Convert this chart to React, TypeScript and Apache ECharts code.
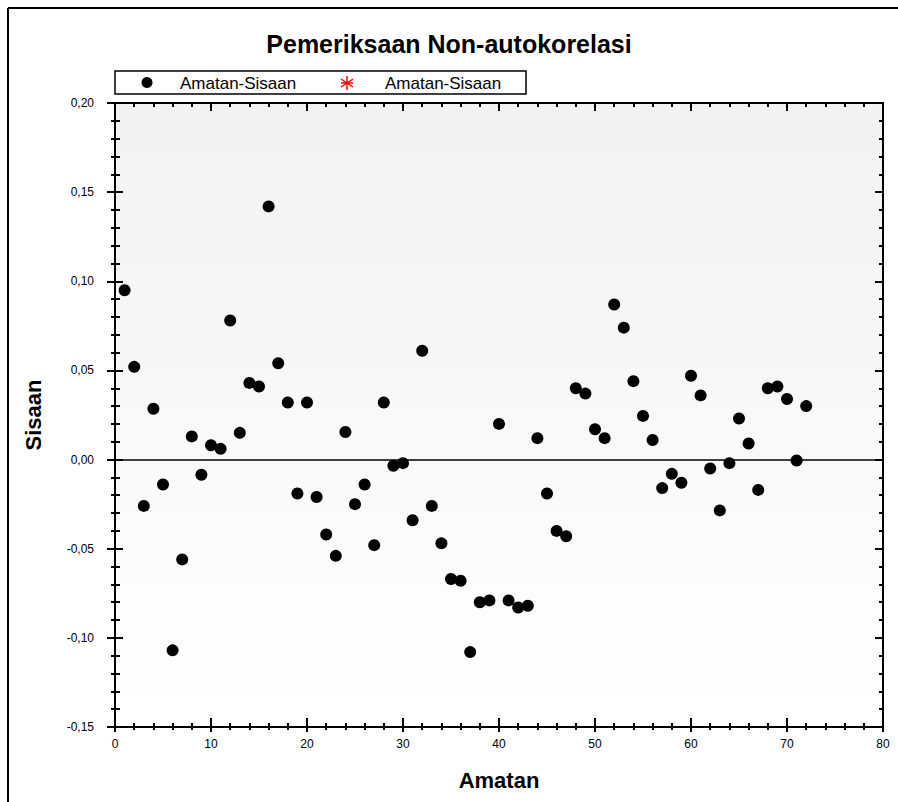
import React, { useEffect, useRef } from "react";
import * as echarts from "echarts";

const titleText = "Pemeriksaan Non-autokorelasi";
const seriesName = "Amatan-Sisaan";
const xName = "Amatan";
const yName = "Sisaan";

const amatan = [
  1, 2, 3, 4, 5, 6, 7, 8, 9, 10, 11, 12, 13, 14, 15, 16, 17, 18, 19, 20, 21, 22, 23, 24,
  25, 26, 27, 28, 29, 30, 31, 32, 33, 34, 35, 36, 37, 38, 39, 40, 41, 42, 43, 44, 45, 46, 47, 48,
  49, 50, 51, 52, 53, 54, 55, 56, 57, 58, 59, 60, 61, 62, 63, 64, 65, 66, 67, 68, 69, 70, 71, 72,
];

const sisaan = [
  0.095, 0.052, -0.026, 0.0285, -0.014, -0.107, -0.056, 0.013, -0.0085, 0.008, 0.006, 0.078,
  0.015, 0.043, 0.041, 0.142, 0.054, 0.032, -0.019, 0.032, -0.021, -0.042, -0.054, 0.0155,
  -0.025, -0.014, -0.048, 0.032, -0.0035, -0.002, -0.034, 0.061, -0.026, -0.047, -0.067, -0.068,
  -0.108, -0.08, -0.079, 0.02, -0.079, -0.083, -0.082, 0.012, -0.019, -0.04, -0.043, 0.04,
  0.037, 0.017, 0.012, 0.087, 0.074, 0.044, 0.0245, 0.011, -0.016, -0.008, -0.013, 0.047,
  0.036, -0.005, -0.0285, -0.002, 0.023, 0.009, -0.017, 0.04, 0.041, 0.034, -0.0005, 0.03,
];

const xMin = 0;
const xMax = 80;
const xInterval = 10;
const yMin = -0.15;
const yMax = 0.2;
const yInterval = 0.05;

const FONT = "'Liberation Sans', Arial, sans-serif";

export default function App() {
  const ref = useRef<HTMLDivElement>(null);

  useEffect(() => {
    if (!ref.current) return;
    const chart = echarts.init(ref.current, undefined, { renderer: "svg" });

    const data = amatan.map((x, i) => [x, sisaan[i]]);
    const fmtY = (v: number) => v.toFixed(2).replace(".", ",");

    const baseX = {
      type: "value" as const,
      min: xMin,
      max: xMax,
      interval: xInterval,
      splitLine: { show: false },
      axisLine: { show: true, onZero: false, lineStyle: { color: "#000", width: 2 } },
    };
    const baseY = {
      type: "value" as const,
      min: yMin,
      max: yMax,
      interval: yInterval,
      splitLine: { show: false },
      axisLine: { show: true, onZero: false, lineStyle: { color: "#000", width: 2 } },
    };

    const option: any = {
      animation: false,
      backgroundColor: "#ffffff",
      title: {
        text: titleText,
        left: "center",
        top: 26,
        textStyle: { fontFamily: FONT, fontSize: 25, fontWeight: "bold", color: "#000" },
      },
      grid: {
        left: 115,
        right: 15,
        top: 103,
        bottom: 75,
        show: true,
        borderWidth: 0,
        backgroundColor: new echarts.graphic.LinearGradient(0, 0, 0, 1, [
          { offset: 0, color: "#f2f2f2" },
          { offset: 1, color: "#ffffff" },
        ]),
      },
      xAxis: [
        {
          ...baseX,
          position: "bottom",
          name: xName,
          nameLocation: "middle",
          nameGap: 42,
          nameMoveOverlap: false,
          nameTextStyle: { fontFamily: FONT, fontSize: 22, fontWeight: "bold", color: "#000" },
          axisTick: { show: true, inside: false, length: 5, lineStyle: { color: "#000", width: 2 } },
          minorTick: { show: true, splitNumber: 5, length: 3, lineStyle: { color: "#000", width: 2 } },
          axisLabel: { show: true, margin: 11, fontFamily: FONT, fontSize: 12, color: "#000" },
        },
        {
          ...baseX,
          position: "bottom",
          axisTick: { show: true, inside: true, length: 9, lineStyle: { color: "#000", width: 2 } },
          minorTick: { show: true, splitNumber: 5, length: 4, lineStyle: { color: "#000", width: 2 } },
          axisLabel: { show: false },
        },
        {
          ...baseX,
          position: "top",
          axisTick: { show: true, inside: true, length: 8, lineStyle: { color: "#000", width: 2 } },
          minorTick: { show: true, splitNumber: 5, length: 4, lineStyle: { color: "#000", width: 2 } },
          axisLabel: { show: false },
        },
      ],
      yAxis: [
        {
          ...baseY,
          position: "left",
          name: yName,
          nameLocation: "middle",
          nameGap: 71,
          nameMoveOverlap: false,
          nameRotate: 90,
          nameTextStyle: { fontFamily: FONT, fontSize: 22, fontWeight: "bold", color: "#000" },
          axisTick: { show: true, inside: false, length: 8, lineStyle: { color: "#000", width: 2 } },
          minorTick: { show: true, splitNumber: 5, length: 4, lineStyle: { color: "#000", width: 2 } },
          axisLabel: {
            show: true,
            margin: 21,
            fontFamily: FONT,
            fontSize: 12,
            color: "#000",
            formatter: fmtY,
          },
        },
        {
          ...baseY,
          position: "left",
          axisTick: { show: true, inside: true, length: 8, lineStyle: { color: "#000", width: 2 } },
          minorTick: { show: true, splitNumber: 5, length: 5, lineStyle: { color: "#000", width: 2 } },
          axisLabel: { show: false },
        },
        {
          ...baseY,
          position: "right",
          axisTick: { show: true, inside: true, length: 8, lineStyle: { color: "#000", width: 2 } },
          minorTick: { show: true, splitNumber: 5, length: 4, lineStyle: { color: "#000", width: 2 } },
          axisLabel: { show: false },
        },
      ],
      series: [
        {
          name: seriesName,
          type: "scatter",
          xAxisIndex: 0,
          yAxisIndex: 0,
          data,
          symbol: "circle",
          symbolSize: 12,
          itemStyle: { color: "#000", opacity: 1 },
          markLine: {
            silent: true,
            symbol: "none",
            label: { show: false },
            lineStyle: { color: "#000", width: 1.5, type: "solid" },
            data: [{ yAxis: 0 }],
          },
          z: 5,
        },
      ],
      graphic: [
        {
          type: "line",
          shape: { x1: 8, y1: 8, x2: 898, y2: 8 },
          style: { stroke: "#000", lineWidth: 2 },
        },
        {
          type: "line",
          shape: { x1: 8, y1: 8, x2: 8, y2: 802 },
          style: { stroke: "#000", lineWidth: 2 },
        },
        {
          type: "rect",
          shape: { x: 115, y: 71, width: 411, height: 23 },
          style: { fill: "#fff", stroke: "#000", lineWidth: 1.5 },
        },
        {
          type: "circle",
          shape: { cx: 147, cy: 82.5, r: 5.5 },
          style: { fill: "#000" },
        },
        {
          type: "text",
          x: 180,
          y: 83,
          style: {
            text: seriesName,
            fontFamily: FONT,
            fontSize: 17,
            fill: "#000",
            verticalAlign: "middle",
          },
        },
        {
          type: "group",
          x: 347,
          y: 83,
          children: [
            { type: "line", shape: { x1: 0, y1: -7, x2: 0, y2: 7 }, style: { stroke: "#ff0000", lineWidth: 1.5 } },
            { type: "line", shape: { x1: -6, y1: -4, x2: 6, y2: 4 }, style: { stroke: "#ff0000", lineWidth: 1.5 } },
            { type: "line", shape: { x1: -6, y1: 4, x2: 6, y2: -4 }, style: { stroke: "#ff0000", lineWidth: 1.5 } },
            { type: "line", shape: { x1: -6, y1: 0, x2: 6, y2: 0 }, style: { stroke: "#ff0000", lineWidth: 1.5 } },
          ],
        },
        {
          type: "text",
          x: 385,
          y: 83,
          style: {
            text: seriesName,
            fontFamily: FONT,
            fontSize: 17,
            fill: "#000",
            verticalAlign: "middle",
          },
        },
      ],
    };

    chart.setOption(option);
    return () => chart.dispose();
  }, []);

  return (
    <div
      ref={ref}
      style={{ position: "fixed", left: 0, top: 0, width: 898, height: 802, background: "#fff" }}
    />
  );
}
